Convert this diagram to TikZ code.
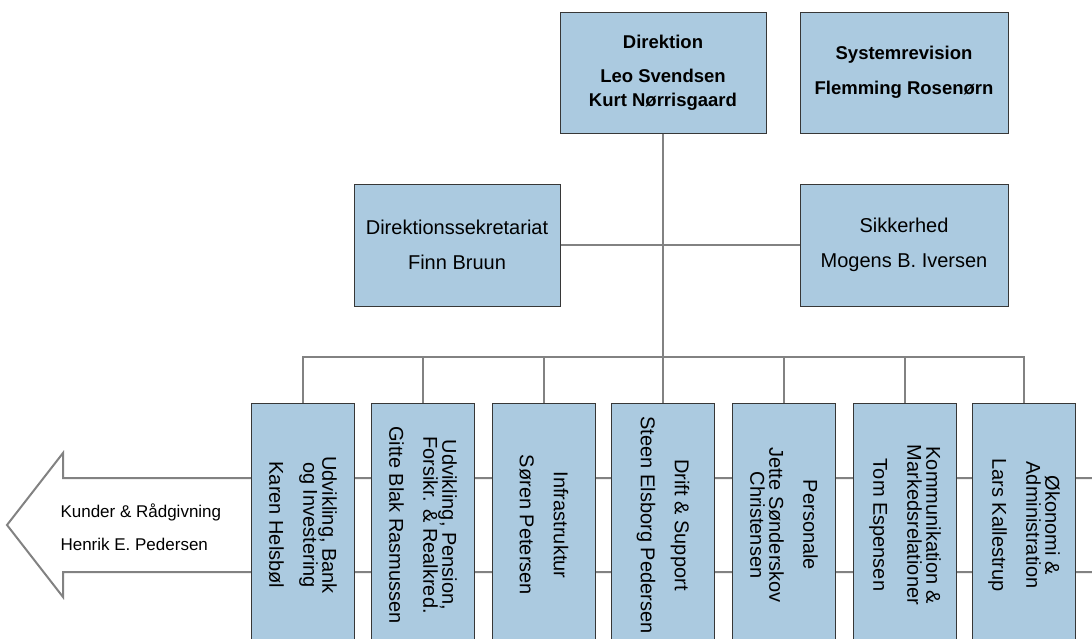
\documentclass[tikz,border=0pt]{standalone}
\usepackage{fontspec}
\setmainfont{Liberation Sans}
\setlength{\lineskiplimit}{-5pt}

\definecolor{boxblue}{RGB}{171,202,224}
\definecolor{linegray}{RGB}{130,130,130}
\definecolor{edgegray}{RGB}{55,55,55}

\tikzset{
  box/.style={draw=edgegray, line width=1pt, fill=boxblue, inner sep=0pt, align=center},
  headbox/.style={box, font=\fontsize{18.5}{24}\selectfont\bfseries},
  staffbox/.style={box, font=\fontsize{20}{24}\selectfont},
  unitbox/.style={box, rotate=-90, minimum width=244pt, minimum height=103pt,
    font=\fontsize{20}{19}\selectfont},
  link/.style={draw=linegray, line width=1.8pt},
}

\begin{document}
\begin{tikzpicture}[x=1pt, y=-1pt]
  \useasboundingbox (0,0) rectangle (1092,638);
  \clip (0,0) rectangle (1092,638);

  % big arrow behind the units
  \filldraw[draw=linegray, fill=white, line width=2pt]
    (7,525) -- (63,453) -- (63,478) -- (1110,478) -- (1110,572)
    -- (63,572) -- (63,597) -- cycle;
  \node[anchor=west, align=left, font=\fontsize{17}{33}\selectfont] (kunder) at (57,527)
    {Kunder \& Rådgivning\\Henrik E. Pedersen};

  % top
  \node[headbox, minimum width=206pt, minimum height=121pt] (dir) at (663,72.5)
    {Direktion\\[10pt]Leo Svendsen\\Kurt Nørrisgaard};
  \node[headbox, minimum width=208pt, minimum height=121pt] (sysrev) at (904,72.5)
    {Systemrevision\\[11pt]Flemming Rosenørn};

  % staff
  \node[staffbox, minimum width=206pt, minimum height=122pt] (sekr) at (457,245)
    {Direktionssekretariat\\[11pt]Finn Bruun};
  \node[staffbox, minimum width=208pt, minimum height=122pt] (sikk) at (904,245)
    {Sikkerhed\\[11pt]Mogens B. Iversen};

  % units
  \node[unitbox] (udvbank) at (303,525) {Udvikling, Bank\\og Investering\\[15pt]Karen Helsbøl};
  \node[unitbox] (udvpens) at (423,525) {Udvikling, Pension,\\Forsikr. \& Realkred.\\[15pt]Gitte Blak Rasmussen};
  \node[unitbox] (infra) at (544,525) {Infrastruktur\\[15pt]Søren Petersen};
  \node[unitbox] (drift) at (663,525) {Drift \& Support\\[15pt]Steen Elsborg Pedersen};
  \node[unitbox] (pers) at (784,525) {Personale\\[15pt]Jette Sønderskov\\Christensen};
  \node[unitbox] (komm) at (905,525) {Kommunikation \&\\Markedsrelationer\\[15pt]Tom Espensen};
  \node[unitbox] (oeko) at (1024,525) {Økonomi \&\\Administration\\[15pt]Lars Kallestrup};

  % lines
  \coordinate (bus) at (663,357);
  \draw[link] (dir.south) -- (bus);
  \draw[link] (sekr.east) -- (sikk.west);
  \draw[link] (udvbank.west) |- (bus);
  \draw[link] (udvpens.west) |- (bus);
  \draw[link] (infra.west) |- (bus);
  \draw[link] (drift.west) |- (bus);
  \draw[link] (pers.west) |- (bus);
  \draw[link] (komm.west) |- (bus);
  \draw[link] (oeko.west) |- (bus);
\end{tikzpicture}
\end{document}
